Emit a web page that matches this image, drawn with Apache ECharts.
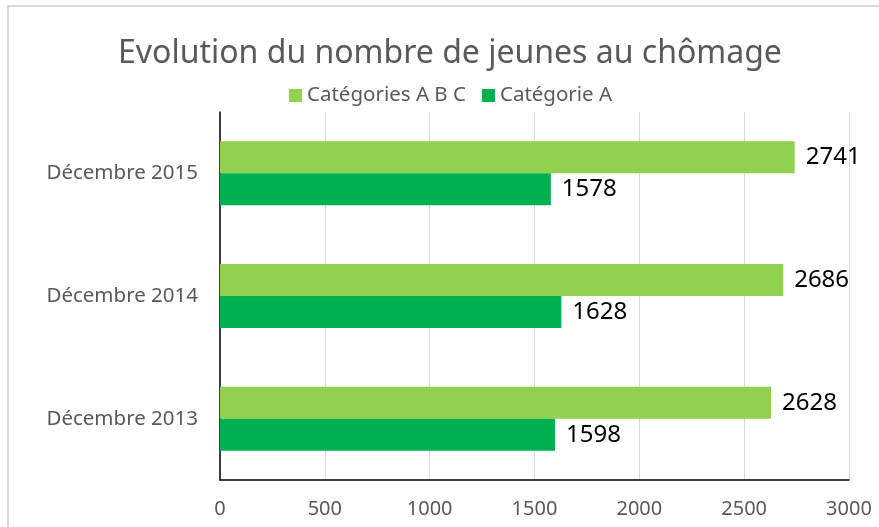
<!DOCTYPE html>
<html>
<head>
<meta charset="utf-8">
<script src="https://cdn.jsdelivr.net/npm/echarts@6/dist/echarts.min.js"></script>
<style>
html, body { margin: 0; padding: 0; background: #fff; }
#chart { width: 879px; height: 527px; }
.frame {
  position: absolute; left: 7px; top: 5px; width: 900px; height: 600px;
  border-left: 2px solid #d9d9d9; border-top: 2px solid #d9d9d9;
  pointer-events: none;
}
</style>
</head>
<body>
<div id="chart"></div>
<div class="frame"></div>
<script>
// données
const categories = ['Décembre 2013', 'Décembre 2014', 'Décembre 2015']
const seriesNames = ['Catégories A B C', 'Catégorie A']
const totalABC = [2628, 2686, 2741]
const totalA = [1598, 1628, 1578]
const xTicks = [0, 500, 1000, 1500, 2000, 2500, 3000]

const font = 'Noto Sans'
const chart = echarts.init(document.getElementById('chart'))

const label = {
  show: true,
  position: 'right',
  distance: 11,
  color: '#000',
  fontSize: 24,
  fontFamily: font
}

chart.setOption({
  animation: false,
  title: {
    text: 'Evolution du nombre de jeunes au chômage',
    left: 113,
    top: 33,
    textStyle: { fontFamily: font, fontSize: 32, fontWeight: 'normal', color: '#595959' }
  },
  legend: {
    data: seriesNames,
    top: 80,
    left: 284,
    itemWidth: 13,
    itemHeight: 13,
    itemGap: 16,
    icon: 'rect',
    textStyle: { fontFamily: font, fontSize: 20.5, color: '#595959' }
  },
  grid: { left: 220, right: 30, top: 112, bottom: 47, containLabel: false },
  xAxis: {
    type: 'value',
    min: xTicks[0],
    max: xTicks[xTicks.length - 1],
    interval: 500,
    axisLine: { show: true, lineStyle: { color: '#000', width: 1.5 } },
    axisTick: { show: false },
    splitLine: { lineStyle: { color: '#d9d9d9', width: 1 } },
    axisLabel: { fontFamily: font, fontSize: 20, color: '#595959', margin: 19, formatter: v => String(v) }
  },
  yAxis: {
    type: 'category',
    data: categories,
    axisLine: { show: true, lineStyle: { color: '#000', width: 1.5 } },
    axisTick: { show: false },
    axisLabel: { fontFamily: font, fontSize: 20.5, color: '#595959', margin: 22 }
  },
  series: [
    {
      name: seriesNames[0],
      type: 'bar',
      data: totalABC,
      barWidth: 32,
      barGap: '0%',
      itemStyle: { color: '#92d050' },
      label: label
    },
    {
      name: seriesNames[1],
      type: 'bar',
      data: totalA,
      barWidth: 32,
      barGap: '0%',
      itemStyle: { color: '#00b050' },
      label: label
    }
  ]
})
</script>
</body>
</html>
